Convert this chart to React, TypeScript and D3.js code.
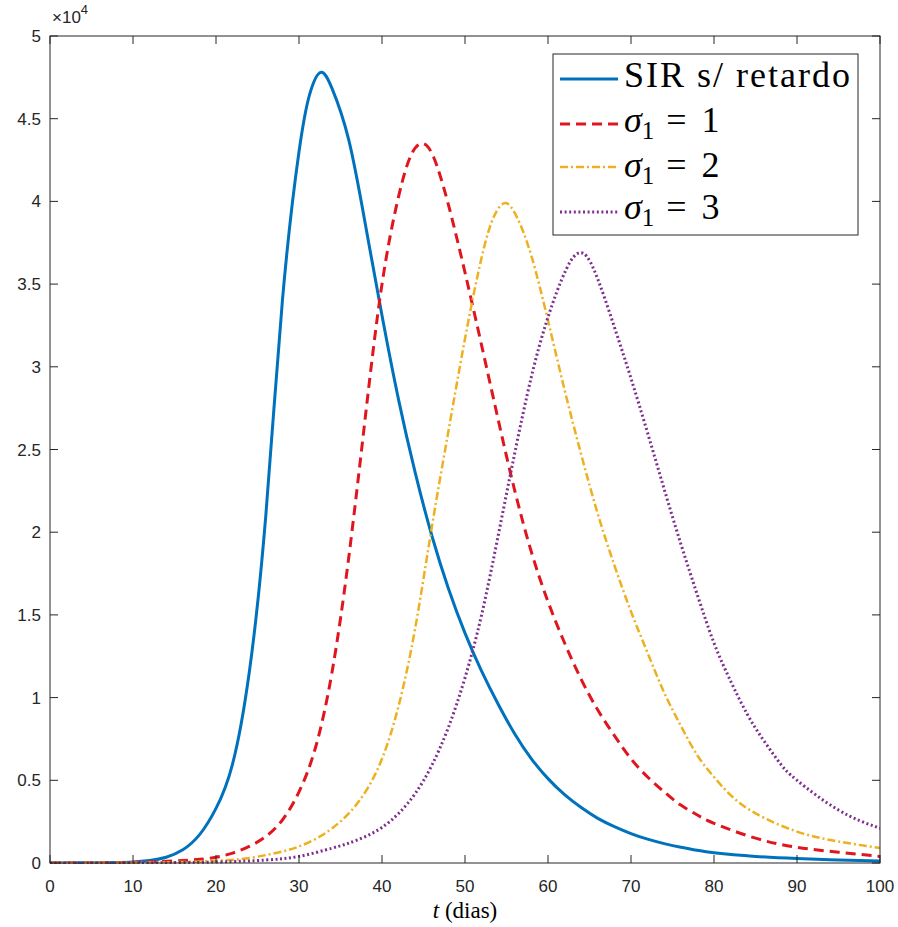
import React from "react";
import * as d3 from "d3";

// ---- data (values in units of 10^4 people) ----
const sirT = [0, 4, 8, 10, 12, 14, 16, 18, 20, 22, 24, 26, 28, 30, 31.3, 32.6, 34, 36, 38, 40, 42, 44, 46, 48, 50, 52, 54, 56, 58, 60, 62, 64, 66, 68, 70, 72, 74, 76, 78, 80, 85, 90, 95, 100];
const sirV = [0, 0.001, 0.003, 0.006, 0.015, 0.035, 0.08, 0.17, 0.33, 0.6, 1.15, 2.1, 3.4, 4.3, 4.65, 4.78, 4.68, 4.37, 3.86, 3.31, 2.8, 2.36, 1.98, 1.66, 1.39, 1.16, 0.96, 0.78, 0.63, 0.51, 0.413, 0.335, 0.27, 0.22, 0.178, 0.144, 0.117, 0.095, 0.077, 0.062, 0.04, 0.027, 0.018, 0.012];

const redT = [0, 4, 8, 12, 16, 18, 20, 22, 24, 26, 28, 30, 32, 34, 36, 38, 40, 42, 43.5, 44.8, 46.2, 48, 50, 52, 54, 56, 58, 60, 62, 64, 66, 68, 70, 72, 74, 76, 78, 80, 85, 90, 95, 100];
const redV = [0, 0, 0.002, 0.006, 0.015, 0.022, 0.035, 0.06, 0.1, 0.16, 0.26, 0.43, 0.7, 1.16, 1.85, 2.7, 3.5, 4.03, 4.28, 4.35, 4.27, 3.98, 3.57, 3.13, 2.68, 2.25, 1.88, 1.58, 1.33, 1.11, 0.925, 0.77, 0.63, 0.52, 0.43, 0.35, 0.29, 0.24, 0.15, 0.095, 0.065, 0.04];

const yelT = [0, 10, 16, 20, 24, 28, 30, 32, 34, 36, 38, 40, 42, 44, 46, 48, 50, 52, 53.5, 54.9, 56.3, 58, 60, 62, 64, 66, 68, 70, 72, 74, 76, 78, 80, 82, 85, 90, 95, 100];
const yelV = [0, 0.002, 0.006, 0.013, 0.03, 0.07, 0.1, 0.145, 0.21, 0.3, 0.43, 0.63, 0.95, 1.42, 2.03, 2.61, 3.17, 3.66, 3.91, 3.99, 3.9, 3.67, 3.28, 2.86, 2.47, 2.11, 1.8, 1.52, 1.27, 1.03, 0.83, 0.65, 0.52, 0.41, 0.3, 0.19, 0.13, 0.09];

const purT = [0, 10, 20, 26, 30, 34, 36, 38, 40, 42, 44, 46, 48, 50, 52, 54, 56, 58, 60, 62.2, 63.9, 65.6, 68, 70, 72, 74, 76, 78, 80, 82, 84, 86, 88, 90, 95, 100];
const purV = [0, 0.001, 0.006, 0.018, 0.04, 0.09, 0.12, 0.16, 0.215, 0.3, 0.42, 0.59, 0.82, 1.12, 1.5, 1.98, 2.48, 2.94, 3.3, 3.59, 3.69, 3.58, 3.24, 2.93, 2.6, 2.26, 1.93, 1.62, 1.33, 1.1, 0.9, 0.74, 0.6, 0.5, 0.32, 0.21];

const xTicks = [0, 10, 20, 30, 40, 50, 60, 70, 80, 90, 100];
const yTicks = [0, 0.5, 1, 1.5, 2, 2.5, 3, 3.5, 4, 4.5, 5];

const seriesNames = ["SIR s/ retardo", "1", "2", "3"];

// ---- styles ----
const L = 50, R = 880, T = 36, B = 863;
const axisColor = "#262626";
const styles = [
  { color: "#0072BD", dash: "none", width: 3 },
  { color: "#E0161F", dash: "10 6", width: 3 },
  { color: "#EDB120", dash: "8 3 2 3", width: 2.5 },
  { color: "#7E2F8E", dash: "2 2.6", width: 3 },
];

export default function App() {
  const x = d3.scaleLinear().domain([0, 100]).range([L, R]);
  const y = d3.scaleLinear().domain([0, 5]).range([B, T]);
  const line = d3
    .line<[number, number]>()
    .x((d) => x(d[0]))
    .y((d) => y(d[1]))
    .curve(d3.curveNatural);
  const series = [
    d3.zip(sirT, sirV) as [number, number][],
    d3.zip(redT, redV) as [number, number][],
    d3.zip(yelT, yelV) as [number, number][],
    d3.zip(purT, purV) as [number, number][],
  ];
  const sans = "Liberation Sans, Arial, sans-serif";
  const serif = "Liberation Serif, Times New Roman, serif";
  const legX = 553, legY = 54, legW = 305, legH = 181;
  const rowLineY = [79, 124, 167, 212];
  const rowBase = [87, 132, 177, 219];

  return (
    <svg
      width={898}
      height={927}
      style={{ position: "absolute", left: 0, top: 0, background: "#fff" }}
    >
      <rect x={0} y={0} width={898} height={927} fill="#fff" />
      <defs>
        <clipPath id="plot">
          <rect x={L} y={T - 2} width={R - L} height={B - T + 3} />
        </clipPath>
      </defs>
      {/* curves */}
      <g clipPath="url(#plot)">
        {series.map((s, i) => (
          <path
            key={i}
            d={line(s) || ""}
            fill="none"
            stroke={styles[i].color}
            strokeWidth={styles[i].width}
            strokeDasharray={styles[i].dash}
          />
        ))}
      </g>
      {/* box */}
      <rect x={L} y={T} width={R - L} height={B - T} fill="none" stroke={axisColor} strokeWidth={1} />
      {/* ticks */}
      {xTicks.map((t) => (
        <g key={"xt" + t}>
          <line x1={x(t)} x2={x(t)} y1={B} y2={B - 8} stroke={axisColor} />
          <line x1={x(t)} x2={x(t)} y1={T} y2={T + 8} stroke={axisColor} />
          <text
            x={x(t)}
            y={892}
            textAnchor="middle"
            fontFamily={sans}
            fontSize={17}
            fill={axisColor}
          >
            {t}
          </text>
        </g>
      ))}
      {yTicks.map((t) => (
        <g key={"yt" + t}>
          <line x1={L} x2={L + 8} y1={y(t)} y2={y(t)} stroke={axisColor} />
          <line x1={R} x2={R - 8} y1={y(t)} y2={y(t)} stroke={axisColor} />
          <text
            x={41}
            y={y(t) + 6}
            textAnchor="end"
            fontFamily={sans}
            fontSize={17}
            fill={axisColor}
          >
            {String(t)}
          </text>
        </g>
      ))}
      {/* exponent */}
      <text x={52} y={23} fontFamily={sans} fontSize={17} fill={axisColor}>
        ×10
        <tspan dy={-9} fontSize={13}>4</tspan>
      </text>
      {/* x label */}
      <text x={465} y={918} textAnchor="middle" fontFamily={serif} fontSize={23} fill="#000">
        <tspan fontStyle="italic">t</tspan> (dias)
      </text>
      {/* legend */}
      <rect x={legX} y={legY} width={legW} height={legH} fill="#fff" stroke={axisColor} strokeWidth={1} />
      {seriesNames.map((name, i) => (
        <g key={"lg" + i}>
          <line
            x1={560}
            x2={618}
            y1={rowLineY[i]}
            y2={rowLineY[i]}
            stroke={styles[i].color}
            strokeWidth={styles[i].width}
            strokeDasharray={styles[i].dash}
          />
          {i === 0 ? (
            <text x={624} y={rowBase[i]} fontFamily={serif} fontSize={36} letterSpacing={2} fill="#000">
              {name}
            </text>
          ) : (
            <text x={624} y={rowBase[i]} fontFamily={serif} fontSize={36} fill="#000">
              <tspan fontStyle="italic">σ</tspan>
              <tspan fontSize={25} dy={7}>1</tspan>
              <tspan dy={-7} letterSpacing={3}>{" = " + name}</tspan>
            </text>
          )}
        </g>
      ))}
    </svg>
  );
}
